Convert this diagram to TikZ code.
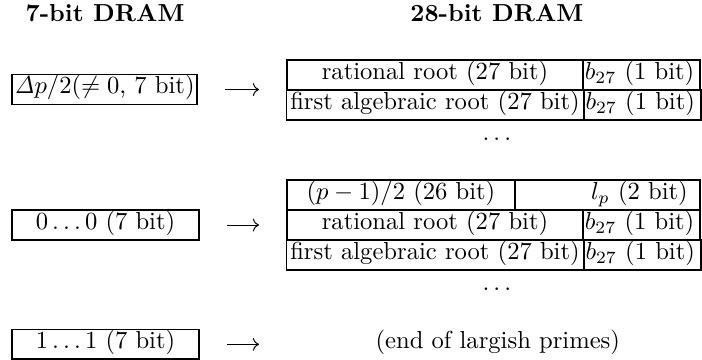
\documentclass[tikz,border=0pt]{standalone}
\usetikzlibrary{arrows.meta,positioning}
\tikzset{
  cellbox/.style={draw,line width=0.7pt,outer sep=0pt,inner xsep=1.6pt,inner ysep=0pt,minimum height=12.2pt,text height=6.9pt,text depth=3.3pt},
  widecell/.style={cellbox,minimum width=120.3pt},
  bitcell/.style={cellbox,inner xsep=0.8pt,text width=46pt,align=left},
  wordbox/.style={cellbox,minimum width=76pt,minimum height=12pt},
  headlabel/.style={font=\bfseries,anchor=base,inner sep=0pt},
  dotslabel/.style={anchor=base,inner sep=0pt},
  maps/.style={-{Computer Modern Rightarrow},line width=0.4pt,shorten <=11.4pt,shorten >=11.4pt}
}
\begin{document}
\begin{tikzpicture}[x=1pt,y=-1pt]
\useasboundingbox (0,0) rectangle (285.4,146.3);
\node[headlabel] (head7) at (42.7,8.9) {7-bit DRAM};
\node[headlabel] (head28) at (202,8.9) {28-bit DRAM};
% nonzero difference
\node[cellbox,inner xsep=1pt,anchor=west] (delta) at (4.9,36.4) {$\mathit{\Delta}p/2(\neq 0$, 7 bit)};
\node[widecell,anchor=north west] (rat1) at (116.7,24.4) {rational root (27 bit)};
\node[bitcell,right=0pt of rat1] (bit1a) {$b_{27}$ (1 bit)};
\node[widecell,below=0pt of rat1] (alg1) {first algebraic root (27 bit)};
\node[bitcell,right=0pt of alg1] (bit1b) {$b_{27}$ (1 bit)};
\node[dotslabel] (dots1) at (202,57.2) {$\ldots$};
\draw[maps] (delta.east) -- (delta.east -| rat1.west);
% new prime
\node[wordbox,anchor=west] (zeros) at (4.9,91.5) {$0\ldots0$ (7 bit)};
\node[cellbox,minimum width=92.6pt,anchor=north west] (half) at (116.7,73.2) {$(p-1)/2$ (26 bit)};
\node[cellbox,right=0pt of half,inner xsep=5pt,text width=65.3pt,align=right] (lp) {$l_p$ (2 bit)};
\node[widecell,anchor=north west] (rat2) at (half.south west) {rational root (27 bit)};
\node[bitcell,right=0pt of rat2] (bit2a) {$b_{27}$ (1 bit)};
\node[widecell,below=0pt of rat2] (alg2) {first algebraic root (27 bit)};
\node[bitcell,right=0pt of alg2] (bit2b) {$b_{27}$ (1 bit)};
\node[dotslabel] (dots2) at (202,118.3) {$\ldots$};
\draw[maps] (zeros.east) -- (zeros.east -| rat2.west);
% end marker
\node[wordbox,anchor=west] (ones) at (4.9,140) {$1\ldots1$ (7 bit)};
\node[anchor=west,inner sep=0pt,text height=6.9pt,text depth=3.3pt] (endp) at (152.5,140) {(end of largish primes)};
\draw[maps,shorten >=47.2pt] (ones) -- (endp);
\end{tikzpicture}
\end{document}
